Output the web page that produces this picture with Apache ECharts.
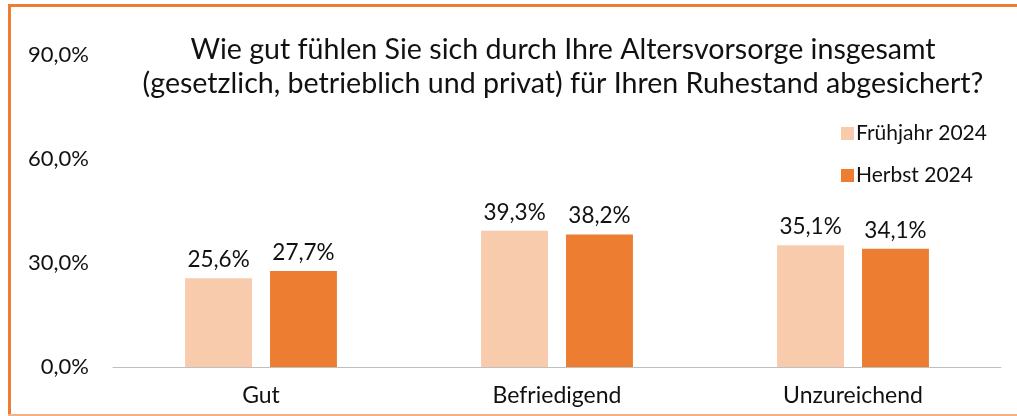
<!DOCTYPE html>
<html>
<head>
<meta charset="utf-8">
<script src="https://cdn.jsdelivr.net/npm/echarts@6/dist/echarts.min.js"></script>
<style>
  html, body { margin: 0; padding: 0; background: #fff; }
  #chart { width: 1017px; height: 416px; }
</style>
</head>
<body>
<div id="chart"></div>
<script>
const categories = ['Gut', 'Befriedigend', 'Unzureichend'];
const fruehjahr = [25.6, 39.3, 35.1];
const herbst = [27.7, 38.2, 34.1];
const seriesNames = ['Frühjahr 2024', 'Herbst 2024'];

const fmt = v => v.toFixed(1).replace('.', ',') + '%';
const font = 'Lato, "Open Sans", sans-serif';

const chart = echarts.init(document.getElementById('chart'));

const labelStyle = {
  show: true,
  position: 'top',
  distance: 7,
  fontFamily: font,
  fontSize: 22.5,
  color: '#111',
  formatter: p => fmt(p.value)
};

chart.setOption({
  animation: false,
  title: {
    text: 'Wie gut fühlen Sie sich durch Ihre Altersvorsorge insgesamt\n(gesetzlich, betrieblich und privat) für Ihren Ruhestand abgesichert?',
    left: 558,
    top: 28,
    textAlign: 'center',
    textStyle: {
      fontFamily: font,
      fontSize: 28.6,
      fontWeight: 'normal',
      color: '#111',
      lineHeight: 34
    }
  },
  legend: {
    orient: 'vertical',
    left: 836,
    top: 118,
    itemWidth: 13,
    itemHeight: 13,
    itemGap: 21,
    icon: 'rect',
    data: seriesNames,
    textStyle: { fontFamily: font, fontSize: 21, color: '#111', padding: [0, 0, 0, -3] }
  },
  grid: { left: 113, right: 16, top: 55, bottom: 49 },
  xAxis: {
    type: 'category',
    data: categories,
    axisLine: { lineStyle: { color: '#bfbfbf', width: 1 } },
    axisTick: { show: false },
    axisLabel: { fontFamily: font, fontSize: 23, color: '#111', margin: 17 }
  },
  yAxis: {
    type: 'value',
    min: 0,
    max: 90,
    interval: 30,
    splitLine: { show: false },
    axisLine: { show: false },
    axisTick: { show: false },
    axisLabel: { fontFamily: font, fontSize: 22, color: '#111', margin: 24, formatter: v => fmt(v) }
  },
  series: [
    {
      name: seriesNames[0],
      type: 'bar',
      data: fruehjahr,
      barWidth: '22.6%',
      barGap: '27%',
      itemStyle: { color: '#F8CBAD' },
      label: labelStyle
    },
    {
      name: seriesNames[1],
      type: 'bar',
      data: herbst,
      barWidth: '22.6%',
      itemStyle: { color: '#ED7D31' },
      label: labelStyle
    }
  ],
  graphic: [
    { type: 'rect', left: 8, top: 4, shape: { width: 1009, height: 3 }, style: { fill: '#ED7D31' } },
    { type: 'rect', left: 8, top: 4, shape: { width: 3, height: 412 }, style: { fill: '#ED7D31' } },
    { type: 'rect', left: 8, top: 414, shape: { width: 1009, height: 2 }, style: { fill: '#F4B183' } }
  ]
});
</script>
</body>
</html>
